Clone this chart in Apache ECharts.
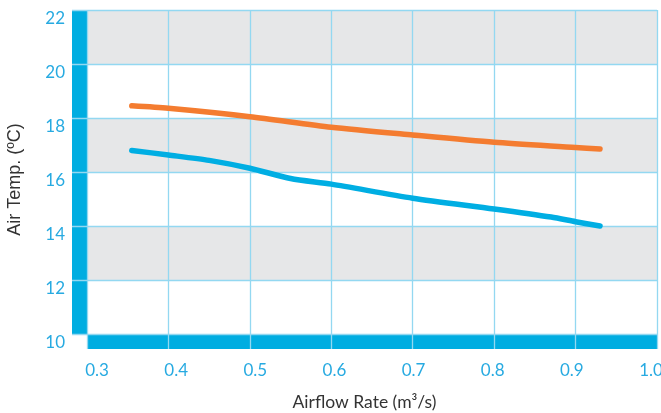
<!DOCTYPE html>
<html>
<head>
<meta charset="utf-8">
<script src="https://cdn.jsdelivr.net/npm/echarts@6/dist/echarts.min.js"></script>
<style>html,body{margin:0;padding:0;background:#fff}#c{width:661px;height:413px}</style>
</head>
<body>
<div id="c"></div>
<script>
// ---- data ----
const xTickValues = [0.3, 0.4, 0.5, 0.6, 0.7, 0.8, 0.9, 1.0];
const yTickValues = [10, 12, 14, 16, 18, 20, 22];
const xTitle = 'Airflow Rate (m³/s)';
const yTitle = 'Air Temp. (ºC)';
const orangeAirflow = [0.355, 0.4, 0.5, 0.6, 0.7, 0.8, 0.9, 0.93];
const orangeTemp    = [18.45, 18.36, 18.05, 17.66, 17.37, 17.1, 16.91, 16.85];
const blueAirflow   = [0.355, 0.4, 0.45, 0.5, 0.55, 0.6, 0.7, 0.8, 0.87, 0.9, 0.93];
const blueTemp      = [16.8, 16.63, 16.43, 16.14, 15.76, 15.55, 15.03, 14.63, 14.33, 14.16, 14.0];

// ---- styles ----
const BAR = '#00ade1';
const GRIDLINE = '#93d8f1';
const BAND = '#e6e7e8';
const LABEL = '#27aae1';

const chart = echarts.init(document.getElementById('c'), null, {renderer: 'canvas'});
const pair = (xs, ys) => xs.map((x, i) => [x, ys[i]]);

chart.setOption({
  animation: false,
  grid: [
    {left: 87, right: 4, top: 10, bottom: 79, containLabel: false, outerBoundsMode: 'none'},
    {left: 72, right: 4, top: 10, bottom: 64, containLabel: false, outerBoundsMode: 'none'}
  ],
  xAxis: [
    { // data axis with bottom bar
      gridIndex: 0, type: 'value', position: 'bottom', min: 0.3, max: 1.0, interval: 0.1,
      offset: 8, z: 0,
      axisLine: {show: true, lineStyle: {color: BAR, width: 14, cap: 'butt'}},
      axisTick: {show: false}, axisLabel: {show: false}, splitLine: {show: false}
    },
    { // gridlines extended over bars + title
      gridIndex: 1, type: 'value', position: 'bottom', min: 0.3 - 0.1 * 15 / 81.43, max: 1.0, z: 1,
      axisLine: {show: false},
      axisTick: {show: false, customValues: xTickValues},
      axisLabel: {show: false, customValues: xTickValues},
      splitLine: {show: true, lineStyle: {color: GRIDLINE, width: 1.3}},
      name: xTitle, nameLocation: 'middle', nameGap: 44,
      nameTextStyle: {color: '#333', fontFamily: 'Lato', fontSize: 17.5}
    },
    { // tick labels
      gridIndex: 0, type: 'value', position: 'bottom', min: 0.3 - 0.1 * 10 / 79.14, max: 1.0 + 0.1 * 6 / 79.14, z: 1,
      axisLine: {show: false},
      axisTick: {show: false, customValues: xTickValues},
      axisLabel: {show: true, customValues: xTickValues, margin: 28, color: LABEL,
        fontFamily: 'Lato', fontSize: 17,
        formatter: v => v.toFixed(1)},
      splitLine: {show: false}
    }
  ],
  yAxis: [
    {
      gridIndex: 0, type: 'value', position: 'left', min: 10, max: 22, interval: 2,
      offset: 7.5, z: 0,
      axisLine: {show: true, lineStyle: {color: BAR, width: 15, cap: 'butt'}},
      axisTick: {show: false},
      axisLabel: {show: true, margin: 14.5, color: LABEL, fontFamily: 'Lato', fontSize: 17,
        verticalAlign: 'top', showMinLabel: true, showMaxLabel: true},
      splitLine: {show: false},
      splitArea: {show: true, areaStyle: {color: ['rgba(0,0,0,0)', BAND]}}
    },
    {
      gridIndex: 1, type: 'value', position: 'left', min: 10 - 15 / 27, max: 22, z: 1,
      axisLine: {show: false},
      axisTick: {show: false, customValues: yTickValues},
      axisLabel: {show: false, customValues: yTickValues},
      splitLine: {show: true, lineStyle: {color: GRIDLINE, width: 1.3}},
      name: yTitle, nameLocation: 'middle', nameGap: 48,
      nameTextStyle: {color: '#333', fontFamily: 'Liberation Sans', fontSize: 18}
    }
  ],
  series: [
    {
      name: 'Orange', type: 'line', xAxisIndex: 0, yAxisIndex: 0, z: 5,
      data: pair(orangeAirflow, orangeTemp), smooth: 0.25, showSymbol: false,
      lineStyle: {color: '#f47c30', width: 5.5, cap: 'round', join: 'round'}
    },
    {
      name: 'Blue', type: 'line', xAxisIndex: 0, yAxisIndex: 0, z: 5,
      data: pair(blueAirflow, blueTemp), smooth: 0.25, showSymbol: false,
      lineStyle: {color: '#00aee3', width: 5.5, cap: 'round', join: 'round'}
    }
  ]
});
</script>
</body>
</html>
